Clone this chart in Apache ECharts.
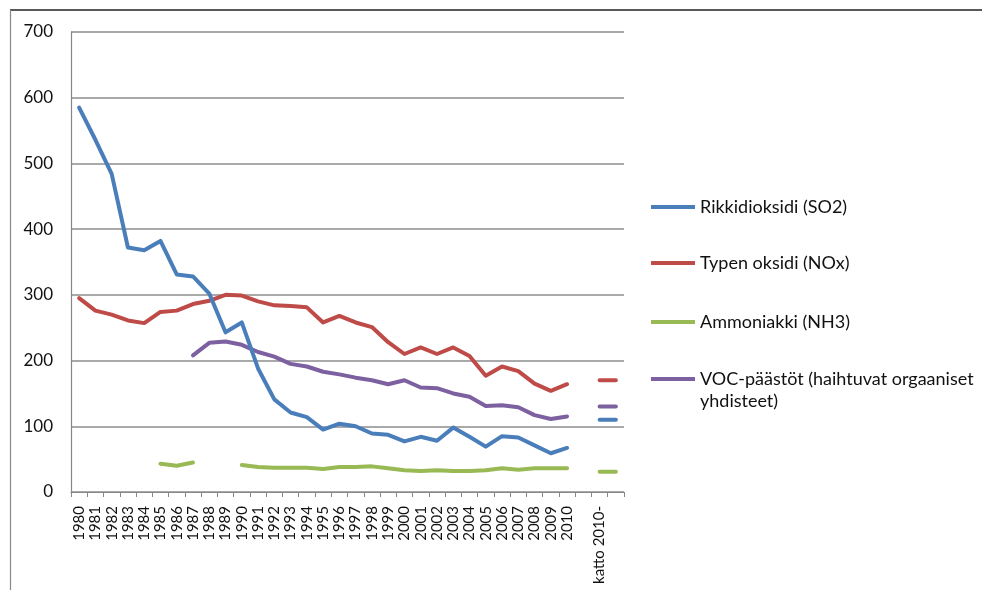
<!DOCTYPE html>
<html>
<head>
<meta charset="utf-8">
<script src="https://cdn.jsdelivr.net/npm/echarts@6/dist/echarts.min.js"></script>
<style>
  html, body { margin: 0; padding: 0; background: #fff; }
  #chart { width: 982px; height: 590px; }
</style>
</head>
<body>
<div id="chart"></div>
<script>
// x-akselin luokat: vuodet + tyhjä + katto + tyhjä
const years = ['1980','1981','1982','1983','1984','1985','1986','1987','1988','1989',
  '1990','1991','1992','1993','1994','1995','1996','1997','1998','1999',
  '2000','2001','2002','2003','2004','2005','2006','2007','2008','2009','2010'];
const categories = years.concat(['', 'katto 2010-', '']);

const yTicks = [0, 100, 200, 300, 400, 500, 600, 700];

// päästöt vuosittain (1000 t)
const so2 = [585, 536, 484, 372, 368, 382, 331, 328, 302, 243,
  258, 188, 141, 121, 114, 95, 104, 100, 89, 87,
  77, 84, 78, 98, 84, 69, 85, 83, 71, 59, 67];
const nox = [295, 276, 270, 261, 257, 274, 276, 286, 291, 300,
  299, 290, 284, 283, 281, 258, 268, 258, 251, 228,
  210, 220, 210, 220, 207, 177, 191, 184, 165, 154, 164];
const nh3 = [null, null, null, null, null, 43, 40, 45, null, null,
  41, 38, 37, 37, 37, 35, 38, 38, 39, 36,
  33, 32, 33, 32, 32, 33, 36, 34, 36, 36, 36];
const voc = [null, null, null, null, null, null, null, 208, 227, 229,
  224, 213, 206, 195, 191, 183, 179, 174, 170, 164,
  170, 159, 158, 150, 145, 131, 132, 129, 117, 111, 115];

// katto 2010- (piirretään lyhyenä viivana)
const ceilSo2 = 110;
const ceilNox = 170;
const ceilNh3 = 31;
const ceilVoc = 130;

const names = ['Rikkidioksidi (SO2)', 'Typen oksidi (NOx)', 'Ammoniakki (NH3)', 'VOC-päästöt (haihtuvat orgaaniset yhdisteet)'];
const colors = ['#4a7ebb', '#be4b48', '#98b954', '#7d60a0'];

function withCeil(arr, c) {
  return arr.concat([null, c, c]);
}

const chart = echarts.init(document.getElementById('chart'));

const seriesData = [withCeil(so2, ceilSo2), withCeil(nox, ceilNox), withCeil(nh3, ceilNh3), withCeil(voc, ceilVoc)];

const option = {
  animation: false,
  textStyle: { fontFamily: 'Lato, "Open Sans", sans-serif' },
  grid: { left: 71, top: 32, width: 553, height: 460, containLabel: false },
  legend: [0, 1, 2, 3].map(i => ({
    data: [names[i]],
    orient: 'vertical',
    left: 651,
    top: [196, 252, 311, 346][i],
    padding: 0,
    itemWidth: 44,
    itemHeight: 14,
    itemGap: 0,
    icon: 'path://M0,0 L44,0 L44,4 L0,4 Z',
    itemStyle: { color: colors[i] },
    formatter: i === 3 ? () => '\u00a0\nVOC-päästöt (haihtuvat orgaaniset\nyhdisteet)' : '{name}',
    textStyle: {
      fontSize: 18,
      color: '#111',
      lineHeight: 22
    }
  })),
  xAxis: {
    type: 'category',
    data: categories,
    boundaryGap: true,
    axisLine: { lineStyle: { color: '#888', width: 1.2 } },
    axisTick: { show: true, alignWithLabel: false, length: 5, lineStyle: { color: '#888' }, interval: 0 },
    axisLabel: {
      interval: 0,
      rotate: 90,
      fontSize: 15,
      color: '#111',
      margin: 14
    }
  },
  yAxis: {
    type: 'value',
    min: yTicks[0],
    max: yTicks[yTicks.length - 1],
    interval: 100,
    axisLine: { show: true, lineStyle: { color: '#888', width: 1.2 } },
    axisTick: { show: false },
    axisLabel: { fontSize: 17, color: '#111', margin: 18 },
    splitLine: { lineStyle: { color: '#8c8c8c', width: 1.5 } }
  },
  series: seriesData.map((d, i) => ({
    name: names[i],
    type: 'line',
    data: d,
    symbol: 'none',
    connectNulls: false,
    lineStyle: { color: colors[i], width: 4, cap: 'round', join: 'round' },
    itemStyle: { color: colors[i] },
    z: [5, 4, 3, 2][i]
  })),
  graphic: [
    { type: 'line', shape: { x1: 10, y1: 10, x2: 982, y2: 10 }, style: { stroke: '#222', lineWidth: 1.5 }, silent: true },
    { type: 'line', shape: { x1: 10.5, y1: 10, x2: 10.5, y2: 590 }, style: { stroke: '#888', lineWidth: 1.2 }, silent: true }
  ]
};

chart.setOption(option);
</script>
</body>
</html>
